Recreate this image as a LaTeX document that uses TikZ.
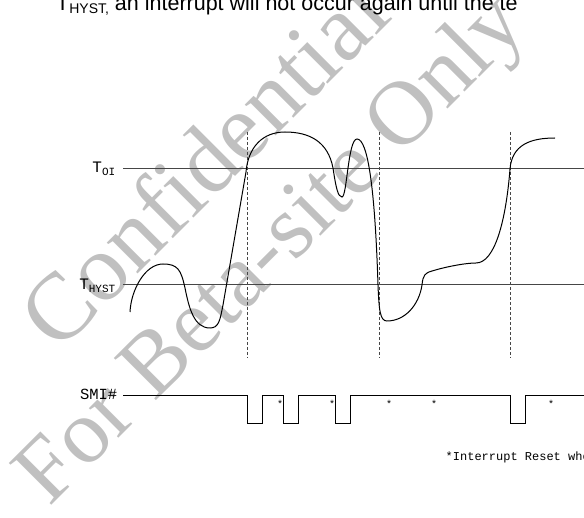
\documentclass[tikz,border=0pt]{standalone}
\usepackage{fontspec}
\setmainfont{Liberation Serif}
\setsansfont{Liberation Sans}
\setmonofont{Liberation Mono}
\usetikzlibrary{positioning}
\definecolor{wmgray}{RGB}{192,192,192}
\definecolor{levelgray}{RGB}{70,70,70}
\definecolor{markgray}{RGB}{70,70,70}
\newcommand{\lowsub}[1]{\raisebox{-2.6pt}{\fontsize{11}{11}\selectfont #1}}
\tikzset{%
  level/.style = {draw=levelgray,line width=1pt},
  marker/.style = {draw=markgray,dash pattern=on 3.5pt off 1.5pt,line width=0.8pt},
  temp/.style = {draw=black,line width=1pt},
  smiwave/.style = {draw=black,line width=1pt},
  lbl/.style = {font=\ttfamily\fontsize{16}{16}\selectfont,inner sep=0pt},
  starmark/.style = {font=\ttfamily\fontsize{10}{10}\selectfont,inner sep=0pt,anchor=north},
  wm/.style = {text=wmgray,font=\rmfamily\fontsize{95}{95}\selectfont,
        inner sep=0pt,anchor=base,rotate=45}
}

\begin{document}
\begin{tikzpicture}[x=1pt,y=-1pt]
   \useasboundingbox (0,0) rectangle (584,518);
   \clip (0,0) rectangle (584,518);

   \node[wm] (wm-top) at (226,186) {Confidential};
   \node[wm,font=\rmfamily\fontsize{91}{91}\selectfont] (wm-bottom) at (289,268) {For Beta-site Only};

   \node[anchor=base west,inner sep=0pt,font=\sffamily\fontsize{21.5}{21.5}\selectfont] (intro) at (56,11)
      {T\raisebox{-3pt}{\fontsize{14}{14}\selectfont HYST,} an interrupt will not occur again until the te};

   \node[lbl,anchor=base east] (toi) at (115.5,173) {T\lowsub{OI}};
   \node[lbl,anchor=base east] (thyst) at (115.5,290) {T\lowsub{HYST}};
   \node[lbl,anchor=base east,font=\ttfamily\fontsize{15.5}{15.5}\selectfont] (smi) at (117.5,399.5) {SMI\#};

   \draw[level] (123,169) -- (584,169);
   \draw[level] (123,285) -- (584,285);

   \foreach \x in {247,379,510}
      \draw[marker] (\x,132) -- (\x,358);

   \draw[temp] (130,312) .. controls (131,290) and (145,264) .. (163,264)
      .. controls (178,264) and (181,270) .. (185,288)
      .. controls (189,308) and (194,328) .. (210,328)
      .. controls (219,328) and (220,320) .. (223,305)
      -- (246,172)
      .. controls (248,148) and (262,132) .. (285,132)
      .. controls (310,132) and (328,142) .. (333,168)
      .. controls (336,188) and (338,197) .. (342,197)
      .. controls (347,197) and (348,139) .. (357,139)
      .. controls (368,139) and (375,190) .. (378,285)
      .. controls (379,310) and (380,321) .. (387,321)
      .. controls (405,321) and (419,305) .. (422,285)
      .. controls (423,275) and (425,273) .. (432,271)
      .. controls (445,267) and (465,263) .. (476,263)
      .. controls (495,263) and (506,220) .. (510,169)
      .. controls (512,145) and (530,138) .. (555,138);

   \draw[smiwave] (123,396) -| (247,424) -| (262,396) -| (283,424) -| (298,396)
      -| (335,424) -| (350,396) -| (510,424) -| (525,396) -- (584,396);

   \foreach \x [count=\i] in {280,332,389,434,551}
      \node[starmark] (star-\i) at (\x,400) {*};

   \node[anchor=base west,inner sep=0pt,font=\ttfamily\fontsize{12}{12}\selectfont] (note) at (445.5,460.5)
      {*Interrupt Reset when};
\end{tikzpicture}
\end{document}
